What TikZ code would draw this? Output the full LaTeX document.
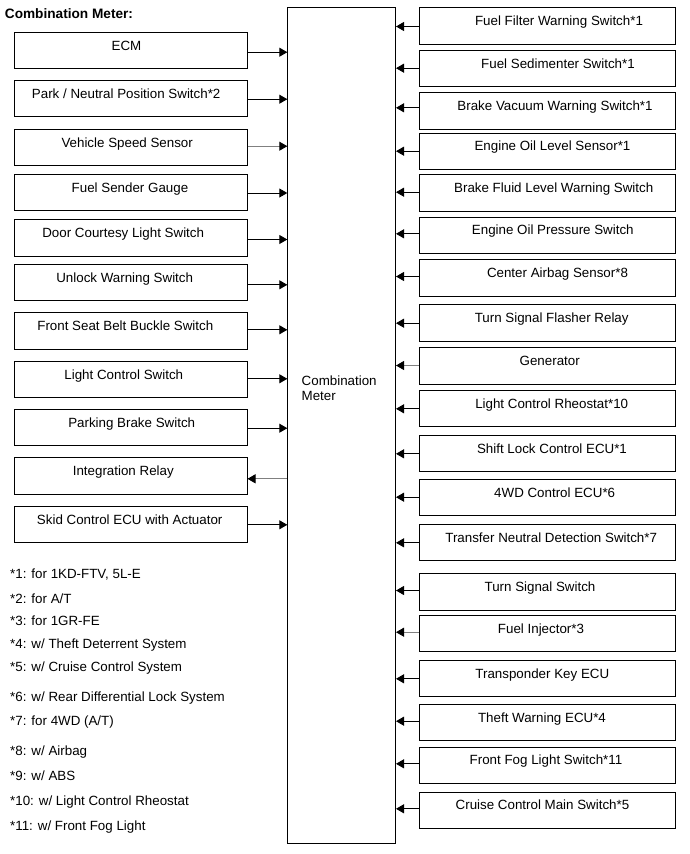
\documentclass[tikz,border=0pt]{standalone}
\usepackage{fontspec}
\setmainfont{Liberation Sans}
\usetikzlibrary{arrows.meta}
\tikzset{
  box/.style={draw=black, line width=1bp, inner sep=0, minimum height=36.4bp},
  lbl/.style={font=\fontsize{13.4}{15}\selectfont, inner sep=0},
  tipend/.style={line width=0.9bp, -{Triangle[length=8bp,width=9bp,black]}},
  tipstart/.style={line width=0.9bp, {Triangle[length=8bp,width=9bp,black]}-},
}
% #1 name, #2 top, #3 text x, #4 text, #5 arrow y, #6 arrow options
\newcommand{\LBox}[6]{%
  \node[box, minimum width=232.5bp, anchor=north west] (#1) at (14,#2) {};
  \node[lbl, anchor=base] (#1t) at (#3,#2+18.4) {#4};
  \coordinate (#1a) at ([yshift={(#2+18.2-#5)*1bp}]#1.east);
  \draw[#6] (#1a) -- (#1a -| cm.west);
}
\newcommand{\RBox}[6]{%
  \node[box, minimum width=256.8bp, anchor=north west] (#1) at (418.5,#2) {};
  \node[lbl, anchor=base] (#1t) at (#3,#2+18) {#4};
  \coordinate (#1a) at ([yshift={(#2+18.2-#5)*1bp}]#1.west);
  \draw[#6] (#1a) -- (#1a -| cm.east);
}
\begin{document}
\begin{tikzpicture}[x=1bp,y=-1bp]
\useasboundingbox (0,0) rectangle (690,854);
\fill[white] (0,0) rectangle (690,854);

\node[lbl, anchor=base west, font=\fontsize{13.7}{15}\selectfont\bfseries] (title) at (4.7,18) {Combination Meter:};

\node[box, minimum width=107.7bp, minimum height=836bp, anchor=north west] (cm) at (287.3,7.3) {};
\node[lbl, align=left, anchor=north west] (cmt) at (301.5,375.5) {Combination\\Meter};

\LBox{l1}{32}{126.5}{ECM}{51.7}{tipend}
\LBox{l2}{80}{126.2}{Park / Neutral Position Switch*2}{98.7}{tipend}
\LBox{l3}{128.7}{127.2}{Vehicle Speed Sensor}{145.7}{tipend, gray}
\LBox{l4}{174}{130}{Fuel Sender Gauge}{192.5}{tipend}
\LBox{l5}{219.3}{123.2}{Door Courtesy Light Switch}{239}{tipend}
\LBox{l6}{264}{124.7}{Unlock Warning Switch}{284.3}{tipend}
\LBox{l7}{312.3}{125.3}{Front Seat Belt Buckle Switch}{329.3}{tipend}
\LBox{l8}{361}{123.8}{Light Control Switch}{378.3}{tipend}
\LBox{l9}{409}{131.7}{Parking Brake Switch}{427.7}{tipend}
\LBox{l10}{457.3}{123.3}{Integration Relay}{478.3}{tipstart, gray}
\LBox{l11}{505.7}{129.7}{Skid Control ECU with Actuator}{524.3}{tipend}

\RBox{r1}{7.3}{559}{Fuel Filter Warning Switch*1}{26}{tipend}
\RBox{r2}{50}{558}{Fuel Sedimenter Switch*1}{67.7}{tipend}
\RBox{r3}{92.3}{555}{Brake Vacuum Warning Switch*1}{107.3}{tipend}
\RBox{r4}{132.7}{552.5}{Engine Oil Level Sensor*1}{150.7}{tipend}
\RBox{r5}{174.3}{553.7}{Brake Fluid Level Warning Switch}{191.7}{tipend}
\RBox{r6}{216.7}{552.8}{Engine Oil Pressure Switch}{233.3}{tipend}
\RBox{r7}{259.3}{557.5}{Center Airbag Sensor*8}{276}{tipend}
\RBox{r8}{304.3}{551.7}{Turn Signal Flasher Relay}{322.7}{tipend}
\RBox{r9}{347.3}{549.7}{Generator}{365}{tipend, gray}
\RBox{r10}{390}{551.7}{Light Control Rheostat*10}{408.3}{tipend}
\RBox{r11}{435}{552}{Shift Lock Control ECU*1}{453.3}{tipend}
\RBox{r12}{479}{554.7}{4WD Control ECU*6}{496.7}{tipend}
\RBox{r13}{524}{551.2}{Transfer Neutral Detection Switch*7}{542.3}{tipend}
\RBox{r14}{573.3}{540}{Turn Signal Switch}{590}{tipend}
\RBox{r15}{615}{541}{Fuel Injector*3}{631.7}{tipend, gray}
\RBox{r16}{660}{542.3}{Transponder Key ECU}{678.3}{tipend}
\RBox{r17}{704}{542}{Theft Warning ECU*4}{720.7}{tipend}
\RBox{r18}{746.7}{546}{Front Fog Light Switch*11}{763.3}{tipend}
\RBox{r19}{791.7}{542.5}{Cruise Control Main Switch*5}{808.3}{tipend}

\node[lbl, anchor=base west] (n1) at (10,578) {*1: for 1KD-FTV, 5L-E};
\node[lbl, anchor=base west] (n2) at (10,603) {*2: for A/T};
\node[lbl, anchor=base west] (n3) at (10,625.5) {*3: for 1GR-FE};
\node[lbl, anchor=base west] (n4) at (10,648) {*4: w/ Theft Deterrent System};
\node[lbl, anchor=base west] (n5) at (10,671.5) {*5: w/ Cruise Control System};
\node[lbl, anchor=base west] (n6) at (10,701) {*6: w/ Rear Differential Lock System};
\node[lbl, anchor=base west] (n7) at (10,725) {*7: for 4WD (A/T)};
\node[lbl, anchor=base west] (n8) at (10,755.5) {*8: w/ Airbag};
\node[lbl, anchor=base west] (n9) at (10,780) {*9: w/ ABS};
\node[lbl, anchor=base west] (n10) at (10,805.5) {*10: w/ Light Control Rheostat};
\node[lbl, anchor=base west] (n11) at (10,830.5) {*11: w/ Front Fog Light};
\end{tikzpicture}
\end{document}
